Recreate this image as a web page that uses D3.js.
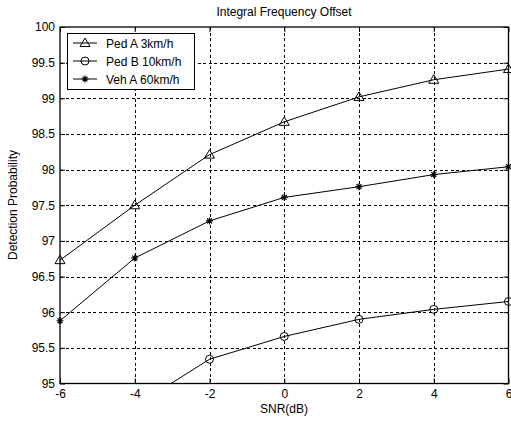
<!DOCTYPE html>
<html>
<head>
<meta charset="utf-8">
<script src="https://cdn.jsdelivr.net/npm/d3@7"></script>
<style>
  html, body { margin: 0; padding: 0; background: #fff; }
  svg { display: block; }
  text { font-family: "Liberation Sans", Arial, sans-serif; fill: #000; }
</style>
</head>
<body>
<svg id="chart" width="511" height="424"></svg>
<script>
// SNR sweep (dB) and detection probability (%) per channel model
const snr = [-6, -4, -2, 0, 2, 4, 6];
const pedA = [96.73, 97.50, 98.21, 98.67, 99.02, 99.26, 99.41];
const pedB = [93.80, 94.68, 95.34, 95.66, 95.90, 96.04, 96.15];
const vehA = [95.88, 96.76, 97.28, 97.61, 97.76, 97.93, 98.04];
const seriesNames = ["Ped A 3km/h", "Ped B 10km/h", "Veh A 60km/h"];
const seriesMarkers = ["triangle", "circle", "star"];
const xTicks = [-6, -4, -2, 0, 2, 4, 6];
const yTicks = [95, 95.5, 96, 96.5, 97, 97.5, 98, 98.5, 99, 99.5, 100];

const seriesValues = [pedA, pedB, vehA];
const series = seriesNames.map((name, i) => ({
  name, marker: seriesMarkers[i],
  points: snr.map((x, j) => ({ x, y: seriesValues[i][j] }))
}));

const svg = d3.select("#chart");
const plotL = 60, plotR = 508.5, plotT = 27, plotB = 383.5;

const x = d3.scaleLinear().domain([-6, 6]).range([plotL, plotR]);
const y = d3.scaleLinear().domain([95, 100]).range([plotB, plotT]);

// dotted grid
const grid = svg.append("g").attr("stroke", "#000").attr("stroke-width", 1)
  .attr("stroke-dasharray", "3,2.5").attr("shape-rendering", "crispEdges");
xTicks.slice(1, -1).forEach(t => grid.append("line")
  .attr("x1", Math.round(x(t)) + 0.5).attr("x2", Math.round(x(t)) + 0.5)
  .attr("y1", plotT).attr("y2", plotB));
yTicks.slice(1, -1).forEach(t => grid.append("line")
  .attr("y1", Math.round(y(t)) + 0.5).attr("y2", Math.round(y(t)) + 0.5)
  .attr("x1", plotL).attr("x2", plotR));

// axes with inward ticks; plain hyphen for negatives
const fmt = d => String(d);
const axB = svg.append("g").attr("transform", `translate(0,${plotB})`)
  .call(d3.axisBottom(x).tickValues(xTicks).tickSize(-5).tickPadding(6).tickFormat(fmt));
const axL = svg.append("g").attr("transform", `translate(${plotL},0)`)
  .call(d3.axisLeft(y).tickValues(yTicks).tickSize(-5).tickPadding(5).tickFormat(fmt));
const axT = svg.append("g").attr("transform", `translate(0,${plotT})`)
  .call(d3.axisTop(x).tickValues(xTicks).tickSize(-5).tickFormat(""));
const axR = svg.append("g").attr("transform", `translate(${plotR},0)`)
  .call(d3.axisRight(y).tickValues(yTicks).tickSize(-5).tickFormat(""));
[axB, axL, axT, axR].forEach(g => {
  g.select(".domain").remove();
  g.selectAll("line").attr("stroke", "#000");
  g.selectAll("text").attr("font-size", 12).attr("font-family", "Liberation Sans, Arial, sans-serif");
});

// frame
svg.append("rect").attr("x", plotL).attr("y", plotT)
  .attr("width", plotR - plotL).attr("height", plotB - plotT)
  .attr("fill", "none").attr("stroke", "#000").attr("stroke-width", 1.3);

// clip for data lines
svg.append("clipPath").attr("id", "plotclip").append("rect")
  .attr("x", plotL).attr("y", plotT).attr("width", plotR - plotL).attr("height", plotB - plotT);

const line = d3.line().x(d => x(d.x)).y(d => y(d.y));

function drawMarker(g, type, cx, cy) {
  if (type === "triangle") {
    g.append("path").attr("d", `M${cx},${cy - 5}L${cx + 5},${cy + 3.5}L${cx - 5},${cy + 3.5}Z`)
      .attr("fill", "none").attr("stroke", "#000").attr("stroke-width", 1);
  } else if (type === "circle") {
    g.append("circle").attr("cx", cx).attr("cy", cy).attr("r", 4)
      .attr("fill", "none").attr("stroke", "#000").attr("stroke-width", 1);
  } else {
    const s = 3.5;
    g.append("path").attr("d",
      `M${cx - s},${cy}L${cx + s},${cy}M${cx},${cy - s}L${cx},${cy + s}` +
      `M${cx - s * 0.7},${cy - s * 0.7}L${cx + s * 0.7},${cy + s * 0.7}` +
      `M${cx - s * 0.7},${cy + s * 0.7}L${cx + s * 0.7},${cy - s * 0.7}`)
      .attr("stroke", "#000").attr("stroke-width", 1.2);
  }
}

const plot = svg.append("g").attr("clip-path", "url(#plotclip)");
series.forEach(s => {
  plot.append("path").datum(s.points).attr("d", line)
    .attr("fill", "none").attr("stroke", "#000").attr("stroke-width", 1);
  const mg = svg.append("g");
  s.points.filter(p => p.y >= 95 && p.y <= 100)
    .forEach(p => drawMarker(mg, s.marker, x(p.x), y(p.y)));
});

// legend
const lg = svg.append("g");
lg.append("rect").attr("x", 67.5).attr("y", 33.5).attr("width", 127).attr("height", 56)
  .attr("fill", "#fff").attr("stroke", "#000").attr("stroke-width", 1);
series.forEach((s, i) => {
  const ly = 43 + i * 18;
  lg.append("line").attr("x1", 73).attr("x2", 97).attr("y1", ly).attr("y2", ly)
    .attr("stroke", "#000").attr("stroke-width", 1);
  drawMarker(lg, s.marker, 85, ly);
  lg.append("text").attr("x", 106).attr("y", ly + 4.5).attr("font-size", 12).text(s.name);
});

// titles
svg.append("text").attr("x", 284).attr("y", 16).attr("text-anchor", "middle")
  .attr("font-size", 12).text("Integral Frequency Offset");
svg.append("text").attr("x", 284).attr("y", 413).attr("text-anchor", "middle")
  .attr("font-size", 12).text("SNR(dB)");
svg.append("text").attr("transform", "translate(17,205) rotate(-90)")
  .attr("text-anchor", "middle").attr("font-size", 12).text("Detection Probability");
</script>
</body>
</html>
